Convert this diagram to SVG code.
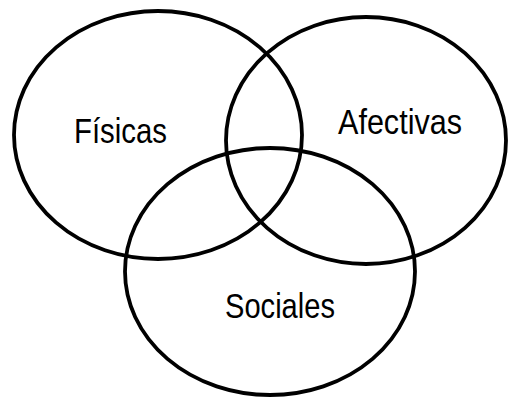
<svg xmlns="http://www.w3.org/2000/svg" width="509" height="398" viewBox="0 0 509 398">
<style>
.c{fill:none;stroke:#000;stroke-width:3.8}
.t{font-family:"Liberation Sans",Arial,sans-serif;font-size:35px;fill:#000}
</style>
<rect width="509" height="398" fill="#fff"/>
<g id="fisicas"><ellipse class="c" cx="158" cy="135" rx="144" ry="124"/><text class="t" x="74" y="143" textLength="93" lengthAdjust="spacingAndGlyphs">Físicas</text></g>
<g id="afectivas"><ellipse class="c" cx="366" cy="140.5" rx="140" ry="123.5"/><text class="t" x="338" y="134" textLength="124" lengthAdjust="spacingAndGlyphs">Afectivas</text></g>
<g id="sociales"><ellipse class="c" cx="270" cy="271.5" rx="145" ry="123.5"/><text class="t" x="225" y="318" textLength="110" lengthAdjust="spacingAndGlyphs">Sociales</text></g>
<g id="connectors"/>
</svg>
